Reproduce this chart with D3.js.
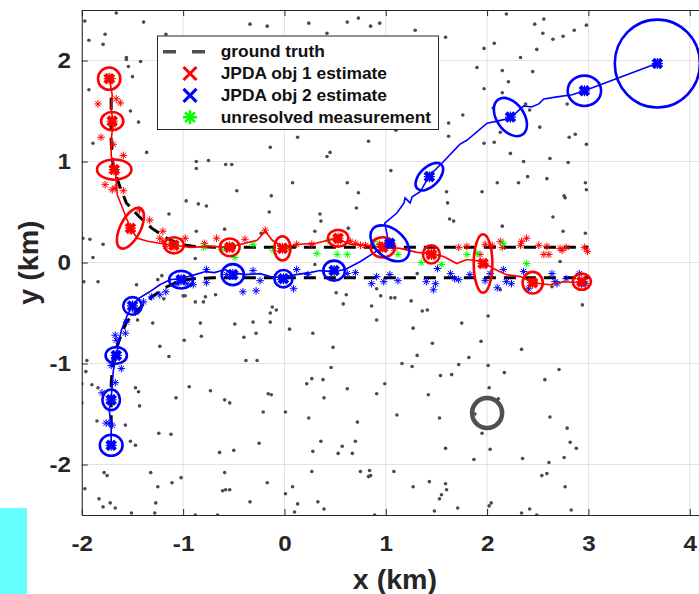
<!DOCTYPE html>
<html>
<head>
<meta charset="utf-8">
<script src="https://cdn.jsdelivr.net/npm/d3@7"></script>
<style>
  body { margin: 0; background: #fff; }
  svg { display: block; font-family: 'Liberation Sans', Arial, sans-serif; font-weight: bold; }
</style>
</head>
<body>
<svg id="chart" width="699" height="594"></svg>
<script>
// axis ticks and legend
const xTicks = [-2, -1, 0, 1, 2, 3, 4]
const yTicks = [-2, -1, 0, 1, 2]
const legendLabels = ['ground truth', 'JPDA obj 1 estimate', 'JPDA obj 2 estimate', 'unresolved measurement']

// clutter returns (km)
const clutter = [
  [-1.66,2.47],[-1.97,2.39],[-1.39,2.38],[-1.77,2.26],[-1.93,2.20],[-1.79,2.16],[-1.56,2.03],[-1.56,2.01],[-1.42,1.99],[-1.54,1.94],
  [-1.50,1.84],[-1.93,1.71],[-1.52,1.50],[-1.44,1.39],[-1.89,1.18],[-1.36,1.09],[-0.87,1.00],[-0.75,1.01],[-0.87,0.93],[-0.58,0.97],
  [-0.52,0.97],[-1.17,2.26],[-0.47,0.71],[-0.14,1.14],[-0.13,0.66],[-0.97,0.61],[-0.85,0.58],[-0.77,0.56],[-0.15,0.50],[-1.14,0.48],
  [-0.59,0.33],[-0.87,0.31],[-0.23,0.29],[-1.99,0.24],[-1.92,0.23],[-1.79,0.18],[-1.89,0.05],[-0.88,0.04],[-0.34,2.36],[-0.17,2.34],
  [0.24,2.37],[0.62,2.38],[0.73,2.42],[0.85,2.34],[0.94,2.37],[0.42,2.27],[1.29,2.30],[1.59,2.23],[1.97,2.12],[1.90,1.93],
  [1.97,1.72],[1.76,1.46],[1.62,1.38],[1.10,1.31],[1.62,1.25],[1.97,1.18],[0.13,1.24],[0.83,1.20],[0.45,1.09],[0.42,1.05],
  [1.05,0.91],[0.08,0.79],[0.62,0.79],[0.73,0.69],[0.71,0.54],[0.35,0.48],[0.36,0.41],[1.60,0.70],[1.95,0.70],[1.61,0.59],
  [1.63,0.43],[1.67,0.41],[0.63,0.34],[0.30,0.31],
  [2.19,2.46],[2.47,2.36],[2.56,2.41],[2.55,2.27],[2.65,2.21],[2.75,2.24],[2.86,2.30],[2.98,2.35],[2.07,2.17],[2.49,2.11],
  [2.33,2.03],[2.15,1.90],[2.45,1.89],[2.21,1.79],[2.15,1.68],[2.06,1.53],[2.38,1.57],[2.42,1.51],[2.79,1.57],[2.52,1.34],
  [2.13,1.29],[2.81,1.24],[2.87,1.27],[2.07,1.19],[2.98,1.17],[2.23,1.08],[2.62,1.03],[2.36,1.00],[2.80,0.99],[2.40,0.85],
  [2.59,0.83],[2.10,0.79],[2.31,0.79],[2.97,0.79],[2.98,0.72],[2.76,0.66],[2.77,0.64],[2.65,0.45],[2.15,0.36],[2.75,0.31],
  [2.97,0.29],[2.72,0.01],
  [-1.98,-0.19],[-1.84,-0.19],[-1.46,-0.22],[-1.25,-0.17],[-1.21,-0.13],[-1.00,-0.33],[-0.98,-0.33],[-0.78,-0.34],[-0.68,-0.32],[-0.88,-0.39],
  [-0.80,-0.39],[-1.19,-0.36],[-0.12,-0.44],[-0.08,-0.47],[-0.14,-0.50],[-1.45,-0.57],[-1.30,-0.60],[-0.83,-0.60],[-0.49,-0.61],[-0.31,-0.59],
  [-0.14,-0.59],[-0.28,-0.70],[-0.82,-0.73],[-0.40,-0.74],[-0.99,-0.77],[-1.23,-0.83],[-1.14,-0.93],[-0.38,-0.97],[-0.27,-0.97],[0.05,-0.66],
  [-1.95,-0.97],[-1.96,-1.08],[-2.00,-1.20],[-1.90,-1.21],[-1.84,-1.24],[-1.47,-1.24],[-1.44,-1.28],[-0.94,-1.23],[-0.73,-1.27],[-0.59,-1.36],
  [-0.54,-1.39],[-0.16,-1.30],[-0.13,-1.31],[-2.00,-1.39],[-1.43,-1.42],[-1.07,-1.34],[-0.21,-1.48],[0.01,-1.48],[-1.85,-1.57],[-1.57,-1.61],
  [-1.24,-1.69],[-1.12,-1.70],[-1.52,-1.77],[-1.47,-1.81],[-0.25,-1.79],[-0.64,-1.88],[-0.50,-1.86],[-1.78,-2.08],[-1.75,-2.11],[-1.32,-2.08],
  [-0.59,-2.08],[-1.02,-2.13],[-1.11,-2.18],[-0.17,-2.18],[-1.25,-2.22],[-1.97,-2.24],[-0.61,-2.26],[-0.58,-2.25],[-0.54,-2.25],[0.01,-2.29],
  [-1.83,-2.34],[-1.27,-2.38],[-0.34,-2.37],[-1.79,-2.42],[-1.72,-2.38],[-1.67,-2.43],[-1.51,-2.48],[-1.28,-2.48],[-0.88,-2.50],[-0.66,-2.50],
  [0.51,-0.30],[0.61,-0.32],[0.58,-0.41],[0.86,-0.43],[0.95,-0.33],[0.91,-0.26],[1.05,-0.35],[1.09,-0.35],[1.25,-0.38],[1.36,-0.48],
  [1.41,-0.47],[0.91,-0.57],[0.28,-0.70],[1.27,-0.65],[1.75,-0.60],[2.01,-0.53],[1.46,-0.80],[1.94,-0.78],[0.48,-0.84],[1.31,-0.92],
  [1.82,-0.94],[0.46,-1.04],[1.16,-1.00],[1.26,-1.03],[1.72,-1.01],[2.01,-1.02],[1.54,-1.12],[1.65,-1.11],[0.27,-1.15],[0.22,-1.20],
  [0.38,-1.16],[0.62,-1.25],[0.99,-1.20],[2.02,-1.24],[0.39,-1.34],[0.91,-1.30],[1.42,-1.31],[0.24,-1.54],[0.72,-1.58],[1.11,-1.51],
  [1.53,-1.54],[0.36,-1.77],[0.70,-1.77],[0.57,-1.82],[0.28,-1.87],[0.53,-1.89],[0.67,-1.89],[1.59,-1.84],[1.87,-1.95],[2.03,-1.85],
  [0.27,-2.07],[0.75,-2.07],[0.84,-2.06],[0.83,-2.12],[0.85,-2.11],[1.08,-2.07],[1.43,-2.17],[1.59,-2.19],[1.60,-2.25],[1.55,-2.30],
  [1.53,-2.34],[1.27,-2.22],[0.08,-2.22],[0.13,-2.39],[0.33,-2.37],[0.39,-2.44],[0.10,-2.47],[0.89,-2.50],[1.48,-2.46],[1.71,-2.43],
  [2.02,-2.41],[2.04,-2.38],[0.30,-0.02],[1.31,-0.11],[1.88,-1.50],[1.95,-1.69],
  [2.94,-0.42],[2.34,-0.86],[2.17,-1.09],[2.71,-1.06],[2.57,-1.16],[2.11,-1.35],[2.62,-1.53],[2.79,-1.64],[2.82,-1.78],[2.88,-1.84],
  [2.76,-1.93],[2.35,-1.94],[2.61,-1.98],[2.54,-2.11],[2.59,-2.09],[2.77,-2.22],[2.42,-2.44],[2.34,-2.48],[2.49,-2.50],[2.83,-2.45],
  [2.13,-0.27],[2.64,-0.24]
]

// sensor position
const sensor = [2.0, -1.49]

// ground truth paths
const truth1 = [[-1.71,1.63],[-1.71,1.20],[-1.69,0.94],[-1.62,0.74],[-1.56,0.59],[-1.44,0.46],[-1.31,0.34],[-1.16,0.24],[-1.03,0.18],[-0.90,0.16],[-0.70,0.15],[3.0,0.15]]
const truth2 = [[-1.71,-1.63],[-1.71,-1.20],[-1.69,-0.94],[-1.62,-0.74],[-1.56,-0.59],[-1.44,-0.46],[-1.31,-0.34],[-1.16,-0.24],[-1.03,-0.18],[-0.90,-0.16],[-0.70,-0.15],[3.0,-0.15]]

// JPDA estimated tracks
const track1 = [
  [-1.73,1.84],[-1.70,1.66],[-1.71,1.51],[-1.69,1.39],[-1.71,1.21],[-1.71,1.06],[-1.67,0.92],[-1.66,0.79],[-1.65,0.67],[-1.61,0.57],
  [-1.56,0.44],[-1.51,0.32],[-1.45,0.24],[-1.35,0.21],[-1.23,0.19],[-1.09,0.17],[-0.93,0.15],[-0.73,0.16],[-0.55,0.15],[-0.39,0.19],
  [-0.27,0.22],[-0.19,0.31],[-0.12,0.22],[-0.01,0.15],[0.15,0.18],[0.31,0.19],[0.51,0.24],[0.65,0.18],[0.80,0.17],[0.97,0.15],
  [1.14,0.14],[1.31,0.10],[1.44,0.09],[1.57,0.06],[1.70,-0.01],[1.80,0.03],[1.96,0.01],[2.06,-0.06],[2.19,-0.12],[2.33,-0.14],
  [2.45,-0.20],[2.62,-0.22],[2.75,-0.19],[2.94,-0.20]
]
const track2 = [
  [-1.71,-1.82],[-1.71,-1.61],[-1.73,-1.46],[-1.71,-1.35],[-1.70,-1.21],[-1.69,-1.08],[-1.66,-0.92],[-1.64,-0.82],[-1.61,-0.67],[-1.55,-0.52],
  [-1.50,-0.43],[-1.43,-0.35],[-1.33,-0.29],[-1.23,-0.22],[-1.13,-0.17],[-1.03,-0.16],[-0.88,-0.12],[-0.78,-0.09],[-0.69,-0.10],[-0.59,-0.07],
  [-0.51,-0.10],[-0.39,-0.12],[-0.24,-0.11],[-0.14,-0.14],[-0.01,-0.15],[0.11,-0.12],[0.25,-0.10],[0.35,-0.08],[0.48,-0.09],[0.60,-0.07],
  [0.75,0.01],[0.89,0.10],[1.03,0.19],[0.99,0.39],[1.11,0.49],[1.18,0.59],[1.19,0.64],[1.24,0.59],[1.26,0.65],[1.34,0.70],
  [1.43,0.86],[1.57,1.00],[1.73,1.17],[1.80,1.21],[2.00,1.38],[2.10,1.40],[2.23,1.43],[2.36,1.55],[2.44,1.54],[2.51,1.57],
  [2.56,1.62],[2.69,1.64],[2.84,1.66],[2.96,1.70],[3.70,1.98]
]

// estimates with error ellipses: x, y, semi-axis a, semi-axis b (km), tilt (deg)
const est1 = [
  [-1.73,1.82,0.11,0.11,0],[-1.70,1.40,0.11,0.09,0],[-1.68,0.92,0.17,0.10,0],[-1.52,0.34,0.22,0.10,-63],
  [-1.09,0.17,0.095,0.08,0],[-0.54,0.15,0.097,0.088,0],[-0.02,0.14,0.08,0.12,0],[0.53,0.24,0.10,0.083,0],
  [0.97,0.15,0.12,0.10,0],[1.45,0.08,0.083,0.09,0],[1.96,-0.01,0.092,0.29,0],[2.45,-0.20,0.10,0.107,0],[2.935,-0.19,0.09,0.08,0]
]
const est2 = [
  [-1.71,-1.81,0.112,0.104,0],[-1.71,-1.36,0.087,0.102,0],[-1.66,-0.92,0.105,0.082,0],[-1.50,-0.43,0.091,0.087,0],
  [-1.02,-0.17,0.118,0.087,0],[-0.51,-0.12,0.11,0.104,0],[-0.01,-0.16,0.089,0.086,0],[0.49,-0.08,0.107,0.099,0],
  [1.04,0.19,0.22,0.14,40],[1.43,0.85,0.168,0.094,-45],[2.23,1.44,0.21,0.135,55],[2.96,1.70,0.165,0.15,0],[3.68,1.97,0.42,0.435,0]
]

// measurements
const meas1 = [
  [-1.73,1.84],[-1.70,1.82],[-1.84,1.57],[-1.66,1.62],[-1.62,1.58],[-1.70,1.39],[-1.69,1.36],[-1.81,1.24],[-1.69,1.17],[-1.59,1.06],
  [-1.69,0.92],[-1.66,0.89],[-1.77,0.77],[-1.70,0.72],[-1.59,0.71],[-1.67,0.74],[-1.43,0.52],[-1.33,0.42],[-1.52,0.34],[-1.51,0.31],
  [-1.20,0.31],[-1.23,0.24],[-1.20,0.21],[-1.17,0.16],[-0.98,0.24],[-1.08,0.18],[-0.79,0.19],[-0.67,0.24],[-0.54,0.17],[-0.39,0.23],
  [-0.19,0.32],[0.02,0.15],[0.12,0.18],[0.27,0.18],[0.50,0.24],[0.53,0.21],[0.70,0.19],[0.80,0.17],[0.94,0.18],[0.99,0.17],
  [1.08,0.14],[1.42,0.09],[1.72,0.15],[1.80,0.16],[1.93,0.08],[1.98,0.18],[2.05,0.17],[2.13,0.21],[2.15,0.15],[2.33,0.17],
  [2.34,0.21],[2.39,0.24],[2.51,0.17],[2.59,0.16],[2.56,0.08],[2.61,0.08],[2.72,0.14],[2.78,0.15],[2.74,0.12],[2.96,0.15],
  [2.99,0.11],[0.65,0.21],[0.75,0.17],[2.46,-0.19],[2.95,-0.20],[1.47,0.10],[1.95,-0.01]
]
const meas2 = [
  [-1.71,-1.79],[-1.73,-1.59],[-1.76,-1.59],[-1.70,-1.61],[-1.80,-1.29],[-1.67,-1.19],[-1.61,-1.05],[-1.71,-1.02],[-1.67,-0.92],[-1.66,-0.77],
  [-1.57,-0.70],[-1.67,-0.72],[-1.56,-0.59],[-1.47,-0.49],[-1.39,-0.39],[-1.31,-0.34],[-1.23,-0.32],[-1.17,-0.29],[-1.06,-0.21],[-0.96,-0.21],
  [-0.90,-0.22],[-0.77,-0.07],[-0.77,-0.20],[-0.57,-0.12],[-0.41,-0.29],[-0.31,-0.08],[-0.28,-0.28],[-0.24,-0.18],[-0.04,-0.17],[0.12,-0.07],
  [0.09,-0.26],[0.23,-0.12],[0.70,-0.10],[0.62,-0.11],[0.86,-0.21],[0.98,-0.19],[1.04,-0.12],[1.12,-0.18],[0.91,-0.14],[1.40,-0.19],
  [1.49,-0.21],[1.47,-0.27],[1.51,-0.06],[1.64,-0.11],[1.68,-0.16],[1.72,-0.17],[1.83,-0.12],[1.98,-0.18],[2.03,-0.11],[2.10,-0.25],
  [2.19,-0.19],[2.24,-0.21],[2.16,-0.07],[2.36,-0.09],[2.41,-0.26],[2.64,-0.11],[2.67,-0.19],[2.69,-0.21],[2.78,-0.16],[2.91,-0.11],
  [2.93,-0.22],[2.97,-0.21]
]
const measUnresolved = [
  [-0.80,0.15],[-0.62,0.13],[-0.49,0.05],[-0.31,0.18],[-0.11,0.12],[0.02,0.14],[0.32,0.09],[0.43,0.22],[0.52,0.08],[0.62,0.08],
  [0.89,0.21],[1.12,0.08],[1.35,0.00],[1.48,0.08],[1.55,-0.02],[1.80,0.08],[1.90,0.09],[2.16,0.19],[2.39,-0.01],[0.98,0.15]
]

const RED = '#ff0000'
const BLUE = '#0000ff'
const GREEN = '#00ff00'
const INK = '#262626'

const svg = d3.select('#chart')

const x = d3.scaleLinear().domain([-2, 4.18]).range([81.8, 708])
const y = d3.scaleLinear().domain([-2.5, 2.5]).range([515, 10])
const [x0, x1] = x.range()
const [y0, y1] = y.range()

svg.append('rect').attr('width', 699).attr('height', 594).attr('fill', '#fff')

svg.append('defs').append('clipPath').attr('id', 'plot')
  .append('rect').attr('x', x0).attr('y', y1).attr('width', x1 - x0).attr('height', y0 - y1)

// grid
const grid = svg.append('g').attr('stroke', '#e2e2e2').attr('stroke-width', 1)
grid.selectAll('.gx').data(xTicks).join('line')
  .attr('x1', d => x(d)).attr('x2', d => x(d)).attr('y1', y0).attr('y2', y1)
grid.selectAll('.gy').data(yTicks).join('line')
  .attr('y1', d => y(d)).attr('y2', d => y(d)).attr('x1', x0).attr('x2', x1)

const plot = svg.append('g').attr('clip-path', 'url(#plot)')

// markers
function asterisk(s) {
  const d = s * 0.7071
  return `M0,${-s}V${s}M${-s},0H${s}M${-d},${-d}L${d},${d}M${-d},${d}L${d},${-d}`
}
function cross(s) {
  return `M${-s},${-s}L${s},${s}M${-s},${s}L${s},${-s}`
}

plot.append('g').selectAll('circle').data(clutter).join('circle')
  .attr('cx', d => x(d[0])).attr('cy', d => y(d[1])).attr('r', 1.8).attr('fill', '#4a4a4a')

plot.append('circle')
  .attr('cx', x(sensor[0])).attr('cy', y(sensor[1])).attr('r', 15)
  .attr('fill', 'none').attr('stroke', '#505050').attr('stroke-width', 4.5)

const line = d3.line().x(d => x(d[0])).y(d => y(d[1]))

plot.selectAll('.truth').data([truth1, truth2]).join('path')
  .attr('d', line).attr('fill', 'none').attr('stroke', '#000')
  .attr('stroke-width', 3).attr('stroke-dasharray', '12,8')

const drawStars = (data, color) => plot.append('g').selectAll('path').data(data).join('path')
  .attr('transform', d => `translate(${x(d[0])},${y(d[1])})`)
  .attr('d', asterisk(3.8)).attr('fill', 'none').attr('stroke', color).attr('stroke-width', 1)

drawStars(meas1, RED)
drawStars(meas2, BLUE)
drawStars(measUnresolved, GREEN)

plot.append('path').datum(track1).attr('d', line)
  .attr('fill', 'none').attr('stroke', RED).attr('stroke-width', 1.6)
plot.append('path').datum(track2).attr('d', line)
  .attr('fill', 'none').attr('stroke', BLUE).attr('stroke-width', 1.6)

const drawEstimates = (data, color) => {
  const g = plot.append('g')
  g.selectAll('ellipse').data(data).join('ellipse')
    .attr('cx', d => x(d[0])).attr('cy', d => y(d[1]))
    .attr('rx', d => x(d[0] + d[2]) - x(d[0]))
    .attr('ry', d => y(d[1]) - y(d[1] + d[3]))
    .attr('transform', d => `rotate(${d[4]},${x(d[0])},${y(d[1])})`)
    .attr('fill', 'none').attr('stroke', color).attr('stroke-width', 2.6)
  // bold estimate cross with asterisk overlay
  g.selectAll('.c').data(data).join('path')
    .attr('transform', d => `translate(${x(d[0])},${y(d[1])})`)
    .attr('d', cross(4.3)).attr('fill', 'none').attr('stroke', color).attr('stroke-width', 4.2)
  g.selectAll('.s').data(data).join('path')
    .attr('transform', d => `translate(${x(d[0])},${y(d[1])})`)
    .attr('d', asterisk(5.5)).attr('fill', 'none').attr('stroke', color).attr('stroke-width', 1.2)
}
drawEstimates(est1, RED)
drawEstimates(est2, BLUE)

// axes
const styleAxis = g => {
  g.attr('font-family', null).attr('font-size', 22).attr('font-weight', 'bold')
  g.selectAll('.domain, line').attr('stroke', INK).attr('stroke-width', 1)
  g.selectAll('text').attr('fill', INK).attr('transform', 'scale(1.1,1)')
}
svg.append('g').attr('transform', `translate(0,${y0})`)
  .call(d3.axisBottom(x).tickValues(xTicks).tickFormat(d => String(d)).tickSize(-6).tickSizeOuter(0).tickPadding(20))
  .call(styleAxis)
svg.append('g').attr('transform', `translate(0,${y1})`)
  .call(d3.axisTop(x).tickValues(xTicks).tickFormat('').tickSize(-6).tickSizeOuter(0))
  .call(styleAxis)
svg.append('g').attr('transform', `translate(${x0},0)`)
  .call(d3.axisLeft(y).tickValues(yTicks).tickFormat(d => String(d)).tickSize(-6).tickSizeOuter(0).tickPadding(9.8))
  .call(styleAxis)

svg.append('text').attr('transform', `translate(${(x0 + x1) / 2},589) scale(1.06,1)`)
  .attr('text-anchor', 'middle').attr('font-size', 27).attr('fill', INK).text('x (km)')
svg.append('text').attr('transform', `translate(37.5,${(y0 + y1) / 2}) rotate(-90) scale(1.06,1)`)
  .attr('text-anchor', 'middle').attr('font-size', 27).attr('fill', INK).text('y (km)')

// legend
const legend = svg.append('g').attr('transform', 'translate(157.5,36)')
legend.append('rect').attr('width', 281).attr('height', 93.5)
  .attr('fill', '#fff').attr('stroke', INK).attr('stroke-width', 1)
const rows = legend.selectAll('g').data(legendLabels).join('g')
  .attr('transform', (d, i) => `translate(0,${15.7 + i * 21.85})`)
rows.append('text').attr('transform', 'translate(63.2,5.3) scale(1.1,1)')
  .attr('font-size', 15.8).attr('fill', '#111').text(d => d)
rows.filter((d, i) => i === 0).append('line')
  .attr('x1', 5.5).attr('x2', 47.5).attr('stroke', '#4d4d4d').attr('stroke-width', 3.5)
  .attr('stroke-dasharray', '13,16')
rows.filter((d, i) => i === 1 || i === 2).append('path')
  .attr('transform', 'translate(32.5,0)').attr('d', cross(6.5)).attr('fill', 'none')
  .attr('stroke', (d, i) => (i === 0 ? RED : BLUE)).attr('stroke-width', 3)
rows.filter((d, i) => i === 3).append('path')
  .attr('transform', 'translate(32.5,0)').attr('d', asterisk(7)).attr('fill', 'none')
  .attr('stroke', GREEN).attr('stroke-width', 2.5)

// side marker strip
svg.append('rect').attr('x', 0).attr('y', 508).attr('width', 27).attr('height', 86).attr('fill', '#66ffff')
</script>
</body>
</html>
